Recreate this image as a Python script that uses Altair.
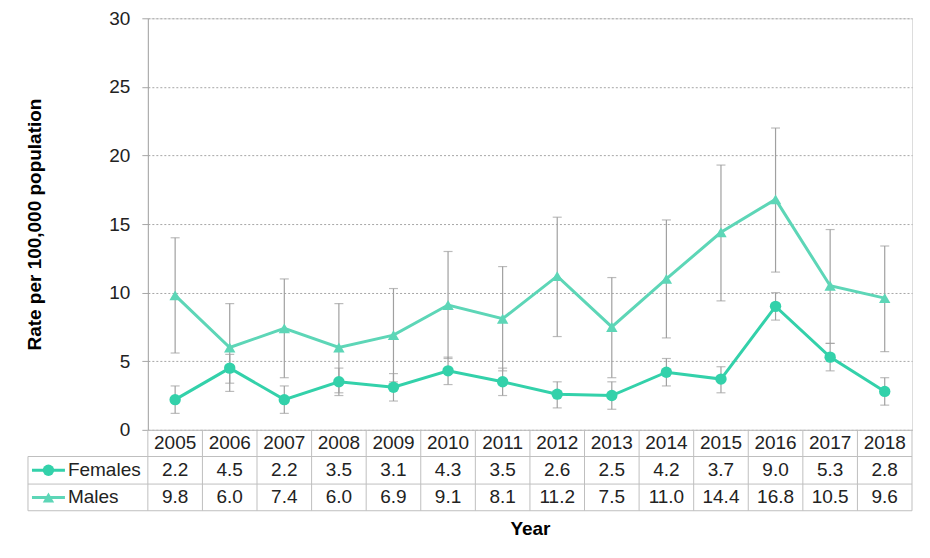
import altair as alt
import pandas as pd

years = [str(y) for y in range(2005, 2019)]
females = [2.2, 4.5, 2.2, 3.5, 3.1, 4.3, 3.5, 2.6, 2.5, 4.2, 3.7, 9.0, 5.3, 2.8]
males = [9.8, 6.0, 7.4, 6.0, 6.9, 9.1, 8.1, 11.2, 7.5, 11.0, 14.4, 16.8, 10.5, 9.6]
female_lo = [1.2, 3.4, 1.2, 2.5, 2.1, 3.3, 2.5, 1.6, 1.5, 3.2, 2.7, 8.0, 4.3, 1.8]
female_hi = [3.2, 5.5, 3.2, 4.5, 4.1, 5.3, 4.5, 3.5, 3.5, 5.2, 4.6, 10.0, 6.3, 3.8]
male_lo = [5.6, 2.8, 3.8, 2.7, 3.5, 5.2, 4.3, 6.8, 3.8, 6.7, 9.4, 11.5, 6.3, 5.7]
male_hi = [14.0, 9.2, 11.0, 9.2, 10.3, 13.0, 11.9, 15.5, 11.1, 15.3, 19.3, 22.0, 14.6, 13.4]
series_names = ["Females", "Males"]
series_colors = ["#33D1AA", "#5DD6B7"]
series_shapes = ["circle", "triangle-up"]
y_ticks = [0, 5, 10, 15, 20, 25, 30]

FONT = "Liberation Sans"
W, H = 765, 412

rows = []
for i, y in enumerate(years):
    rows.append({"year": y, "series": "Females", "value": females[i], "lo": female_lo[i], "hi": female_hi[i]})
    rows.append({"year": y, "series": "Males", "value": males[i], "lo": male_lo[i], "hi": male_hi[i]})
df = pd.DataFrame(rows)
df["label"] = df["value"].map(lambda v: f"{v:.1f}")

xenc = alt.X("year:O", sort=years,
             scale=alt.Scale(paddingInner=0, paddingOuter=0),
             axis=alt.Axis(labels=False, ticks=False, domain=True, domainColor="#BFBFBF",
                           title="Year", titleFont=FONT, titleFontSize=19, titleFontWeight="bold",
                           titleColor="#000", titlePadding=90, grid=False))
yscale = alt.Scale(domain=[0, 30], nice=False)
color = alt.Color("series:N", scale=alt.Scale(domain=series_names, range=series_colors), legend=None)
shape = alt.Shape("series:N", scale=alt.Scale(domain=series_names, range=series_shapes), legend=None)

base = alt.Chart(df)

yaxis = alt.Axis(values=y_ticks, grid=True, gridColor="#A6A6A6", gridDash=[2, 2], gridWidth=1,
                 domainColor="#A6A6A6", tickColor="#A6A6A6", tickSize=6, labelPadding=12,
                 labelFont=FONT, labelFontSize=19, labelColor="#222",
                 title="Rate per 100,000 population", titleFont=FONT, titleFontSize=19,
                 titleFontWeight="bold", titleColor="#000", titlePadding=64)

err = base.mark_rule(color="#A0A0A0", strokeWidth=1.2).encode(
    x=xenc, y=alt.Y("lo:Q", scale=yscale, axis=yaxis), y2="hi:Q")
cap_lo = base.mark_tick(color="#A0A0A0", thickness=1.2, size=9, orient="horizontal").encode(
    x=xenc, y=alt.Y("lo:Q", scale=yscale))
cap_hi = base.mark_tick(color="#A0A0A0", thickness=1.2, size=9, orient="horizontal").encode(
    x=xenc, y=alt.Y("hi:Q", scale=yscale))
lines = base.mark_line(strokeWidth=3).encode(
    x=xenc, y=alt.Y("value:Q", scale=yscale), color=color, detail="series:N")
points = base.mark_point(filled=True, opacity=1, size=130).encode(
    x=xenc, y=alt.Y("value:Q", scale=yscale), color=color, shape=shape)

# data table below the plot
GRID = "#BFBFBF"
row_year_y = 425.5
row_f_y = 452.5
row_m_y = 479.7
line1, line2, line3 = 438.7, 466.3, 493
left_edge = -120

year_text = alt.Chart(pd.DataFrame({"year": years})).mark_text(
    font=FONT, fontSize=19, color="#222", baseline="middle").encode(
    x=xenc, y=alt.value(row_year_y), text="year:N")
f_text = base.transform_filter(alt.datum.series == "Females").mark_text(
    font=FONT, fontSize=19, color="#222", baseline="middle").encode(
    x=xenc, y=alt.value(row_f_y), text="label:N")
m_text = base.transform_filter(alt.datum.series == "Males").mark_text(
    font=FONT, fontSize=19, color="#222", baseline="middle").encode(
    x=xenc, y=alt.value(row_m_y), text="label:N")

vlines = alt.Chart(pd.DataFrame({"year": years})).mark_rule(color=GRID, strokeWidth=1).encode(
    x=alt.X("year:O", sort=years, bandPosition=0, scale=alt.Scale(paddingInner=0, paddingOuter=0)),
    y=alt.value(H), y2=alt.value(line3))
one = pd.DataFrame({"k": [0]})
vr = alt.Chart(one).mark_rule(color=GRID, strokeWidth=1).encode(
    x=alt.value(W), y=alt.value(H), y2=alt.value(line3))
vl = alt.Chart(one).mark_rule(color=GRID, strokeWidth=1).encode(
    x=alt.value(left_edge), y=alt.value(line1), y2=alt.value(line3))
h1 = alt.Chart(one).mark_rule(color=GRID, strokeWidth=1).encode(
    x=alt.value(left_edge), x2=alt.value(W), y=alt.value(line1))
h2 = alt.Chart(one).mark_rule(color=GRID, strokeWidth=1).encode(
    x=alt.value(left_edge), x2=alt.value(W), y=alt.value(line2))
h3 = alt.Chart(one).mark_rule(color=GRID, strokeWidth=1).encode(
    x=alt.value(left_edge), x2=alt.value(W), y=alt.value(line3))

leg_layers = []
for name, col, shp, yy in zip(series_names, series_colors, series_shapes, [row_f_y, row_m_y]):
    d = pd.DataFrame({"series": [name]})
    leg_layers.append(alt.Chart(d).mark_rule(color=col, strokeWidth=3).encode(
        x=alt.value(-116), x2=alt.value(-83), y=alt.value(yy)))
    leg_layers.append(alt.Chart(d).mark_point(filled=True, opacity=1, size=130, color=col, shape=shp).encode(
        x=alt.value(-99.5), y=alt.value(yy)))
    leg_layers.append(alt.Chart(d).mark_text(font=FONT, fontSize=19, color="#222", align="left",
                                             baseline="middle").encode(
        x=alt.value(-80), y=alt.value(yy), text="series:N"))

chart = alt.layer(
    err, cap_lo, cap_hi, lines, points,
    vlines, vr, vl, h1, h2, h3,
    year_text, f_text, m_text, *leg_layers
).properties(
    width=W, height=H,
    autosize=alt.AutoSizeParams(type="none"),
    padding={"left": 140, "top": 10, "right": 10, "bottom": 115},
).configure_view(stroke=None).configure(background="white")

chart.save("out.html", embed_options={"renderer": "svg", "actions": False})
